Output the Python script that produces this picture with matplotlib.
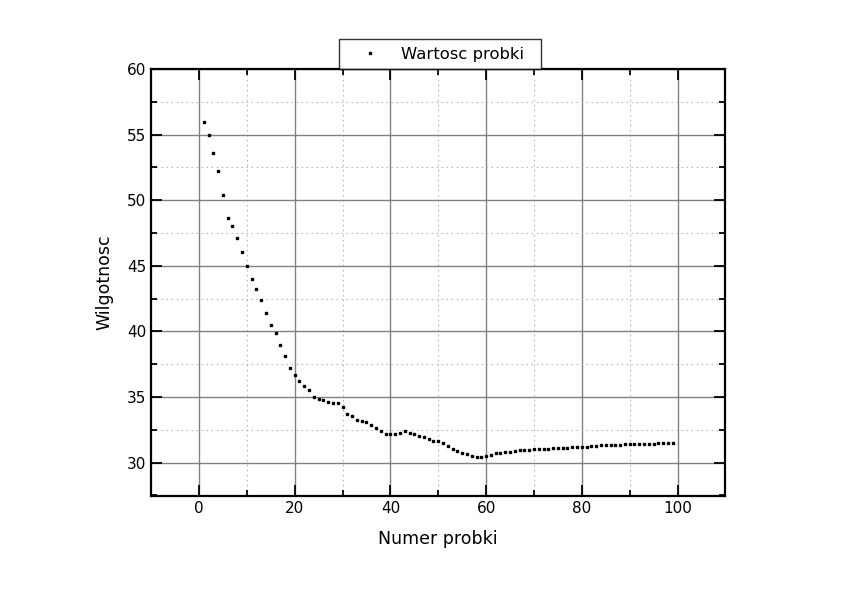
import numpy as np
import matplotlib
matplotlib.use('Agg')
import matplotlib.pyplot as plt
from matplotlib.ticker import MultipleLocator

# numer probki i odczytana wilgotnosc
probki = list(range(1, 100))
wilgotnosc = [
    55.94, 54.95, 53.57, 52.20, 50.42, 48.66, 48.07, 47.11, 46.09, 45.02,
    44.00, 43.25, 42.36, 41.37, 40.48, 39.87, 39.00, 38.11, 37.22, 36.66,
    36.20, 35.85, 35.54, 35.01, 34.86, 34.78, 34.63, 34.53, 34.53, 34.22,
    33.71, 33.53, 33.28, 33.16, 33.06, 32.90, 32.60, 32.37, 32.19, 32.19,
    32.21, 32.29, 32.37, 32.29, 32.21, 32.04, 31.91, 31.76, 31.63, 31.63,
    31.47, 31.27, 31.02, 30.86, 30.69, 30.66, 30.48, 30.40, 30.44, 30.48,
    30.61, 30.69, 30.74, 30.79, 30.84, 30.88, 30.92, 30.95, 30.98, 31.00,
    31.02, 31.04, 31.06, 31.08, 31.10, 31.12, 31.14, 31.16, 31.18, 31.20,
    31.22, 31.25, 31.27, 31.30, 31.31, 31.33, 31.35, 31.36, 31.38, 31.40,
    31.40, 31.41, 31.42, 31.43, 31.45, 31.47, 31.48, 31.48, 31.47,
]

fig = plt.figure(figsize=(8.42, 5.94), dpi=100)
ax = fig.add_axes([0.1795, 0.165, 0.682, 0.7187])

ax.plot(probki, wilgotnosc, 's', color='black', markersize=2.1, label='Wartosc probki', zorder=3)

ax.set_xlim(-10, 110)
ax.set_ylim(27.45, 60)
ax.xaxis.set_major_locator(MultipleLocator(20))
ax.xaxis.set_minor_locator(MultipleLocator(10))
ax.yaxis.set_major_locator(MultipleLocator(5))
ax.yaxis.set_minor_locator(MultipleLocator(2.5))

ax.grid(which='major', color='#808080', linestyle='-', linewidth=1)
ax.grid(which='minor', color='#b8b8b8', linestyle=(0, (1.5, 3)), linewidth=0.8)
ax.set_axisbelow(True)

for s in ax.spines.values():
    s.set_linewidth(1.6)
    s.set_color('black')

ax.tick_params(which='both', direction='in', top=True, right=True, labelsize=11)
ax.tick_params(which='major', length=8, width=1.3)
ax.tick_params(which='minor', length=4, width=1.3)

ax.set_xlabel('Numer probki', fontsize=12.5, labelpad=10)
ax.set_ylabel('Wilgotnosc', fontsize=12.5, labelpad=10)

# legenda nad wykresem, szeroka ramka
leg = ax.legend(loc='lower left', bbox_to_anchor=(0.3275, 1.0, 0.352, 0.05), mode='expand',
                fontsize=11.8, frameon=True, fancybox=False, borderaxespad=0,
                handlelength=2.85, handletextpad=0.45, borderpad=0.45)
leg.get_frame().set_edgecolor('black')
leg.get_frame().set_linewidth(1.0)

fig.savefig('out.png', dpi=100)
